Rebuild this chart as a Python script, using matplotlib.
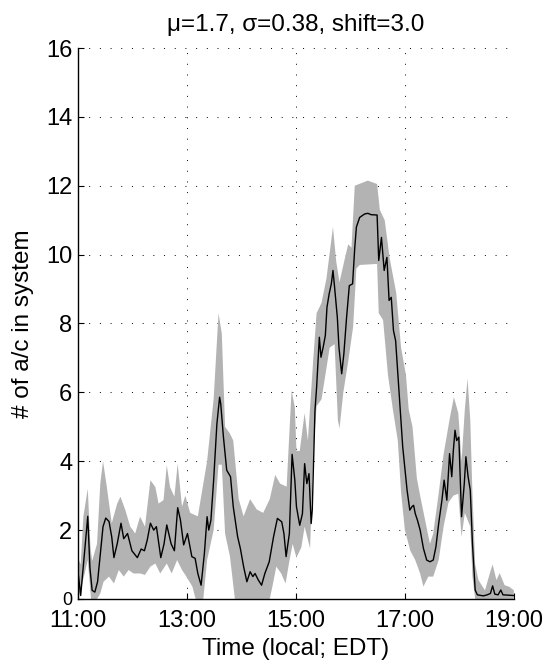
import numpy as np
import matplotlib
matplotlib.use('Agg')
import matplotlib.pyplot as plt

# Mean number of aircraft (time in hours, local)
mean_t = [11.00, 11.05, 11.18, 11.22, 11.26, 11.31, 11.36, 11.41, 11.46, 11.51,
          11.57, 11.62, 11.66, 11.72, 11.79, 11.84, 11.91, 11.99, 12.09, 12.16,
          12.22, 12.27, 12.33, 12.39, 12.44, 12.52, 12.58, 12.63, 12.71, 12.77,
          12.83, 12.88, 12.94, 13.01, 13.09, 13.15, 13.20, 13.26, 13.32, 13.37,
          13.40, 13.44, 13.49, 13.55, 13.60, 13.62, 13.67, 13.73, 13.80, 13.85,
          13.93, 13.98, 14.04, 14.10, 14.16, 14.21, 14.25, 14.31, 14.37, 14.43,
          14.51, 14.59, 14.66, 14.74, 14.78, 14.82, 14.88, 14.93, 14.98, 15.01,
          15.07, 15.12, 15.16, 15.20, 15.24, 15.28, 15.30, 15.35, 15.38, 15.43,
          15.46, 15.50, 15.54, 15.57, 15.61, 15.65, 15.68, 15.71, 15.76, 15.79,
          15.84, 15.88, 15.93, 15.98, 16.04, 16.08, 16.11, 16.17, 16.26, 16.32,
          16.38, 16.49, 16.52, 16.57, 16.62, 16.67, 16.71, 16.75, 16.79, 16.83,
          16.87, 16.91, 16.96, 17.01, 17.04, 17.09, 17.13, 17.16, 17.19, 17.23,
          17.28, 17.34, 17.40, 17.46, 17.52, 17.57, 17.62, 17.68, 17.72, 17.77,
          17.82, 17.86, 17.89, 17.92, 17.95, 17.99, 18.04, 18.09, 18.12, 18.16,
          18.20, 18.24, 18.29, 18.33, 18.44, 18.51, 18.57, 18.61, 18.65, 18.71,
          18.76, 18.80, 19.00]
mean_v = [0.8, 0.1, 2.4, 0.9, 0.25, 0.2, 0.5, 1.3, 2.1, 2.35,
          2.25, 1.8, 1.2, 1.6, 2.2, 1.75, 1.9, 1.4, 1.2, 1.45,
          1.4, 1.7, 2.2, 2.0, 2.1, 1.2, 1.6, 2.15, 1.6, 1.4,
          2.65, 2.3, 1.57, 1.9, 1.23, 1.18, 0.74, 0.4, 1.32, 2.39,
          2.0, 2.29, 3.45, 5.09, 5.86, 5.67, 4.7, 3.74, 3.55, 2.68,
          1.81, 1.47, 0.94, 0.5, 0.79, 0.65, 0.74, 0.55, 0.4, 0.74,
          1.08, 1.81, 2.34, 2.24, 1.9, 1.23, 1.9, 4.2, 3.45, 2.68,
          2.14, 2.48, 3.93, 3.35, 3.64, 2.19, 2.58, 5.48, 6.15, 7.6,
          7.02, 7.31, 7.65, 8.47, 8.86, 9.15, 9.54, 9.05, 8.18, 7.31,
          6.54, 7.12, 8.18, 9.1, 9.15, 10.2, 10.8, 11.08, 11.18, 11.2,
          11.16, 11.15, 9.83, 10.5, 9.54, 9.92, 8.67, 8.76, 7.8, 7.5,
          6.54, 5.57, 4.42, 3.64, 3.16, 2.58, 2.68, 2.72, 2.48, 2.29,
          2.0, 1.47, 1.13, 1.08, 1.13, 1.52, 2.19, 2.87, 3.45, 2.87,
          4.22, 3.55, 4.32, 4.9, 4.6, 4.7, 2.39, 3.35, 4.13, 3.55,
          3.16, 1.61, 0.26, 0.12, 0.09, 0.12, 0.16, 0.38, 0.14, 0.12,
          0.26, 0.12, 0.1]

# Upper edge of the spread
hi_t = [11.00, 11.05, 11.10, 11.18, 11.23, 11.26, 11.35, 11.41, 11.46, 11.53,
        11.62, 11.72, 11.78, 11.87, 11.96, 12.05, 12.14, 12.23, 12.33, 12.42,
        12.48, 12.57, 12.63, 12.69, 12.77, 12.83, 12.91, 12.97, 13.06, 13.20,
        13.37, 13.49, 13.58, 13.64, 13.70, 13.79, 13.85, 13.95, 14.04, 14.16,
        14.28, 14.40, 14.52, 14.62, 14.71, 14.83, 14.92, 14.98, 15.01, 15.07,
        15.16, 15.22, 15.32, 15.38, 15.47, 15.56, 15.68, 15.74, 15.80, 15.90,
        15.96, 16.02, 16.08, 16.32, 16.49, 16.54, 16.63, 16.72, 16.84, 16.93,
        17.02, 17.07, 17.14, 17.22, 17.28, 17.37, 17.46, 17.52, 17.62, 17.71,
        17.83, 17.90, 17.98, 18.04, 18.10, 18.15, 18.20, 18.24, 18.29, 18.35,
        18.47, 18.56, 18.61, 18.68, 18.74, 18.83, 18.92, 19.00]
hi_v = [1.2, 1.0, 2.4, 3.2, 1.5, 1.1, 1.6, 3.35, 4.0, 3.25,
        2.2, 2.77, 2.97, 2.58, 2.1, 1.9, 2.39, 2.1, 3.45, 3.25,
        2.77, 2.87, 3.88, 3.25, 2.97, 3.93, 2.68, 3.0, 2.5, 2.4,
        4.0, 5.8, 8.3, 7.7, 5.0, 4.8, 4.6, 2.9, 2.4, 2.9,
        2.6, 2.5, 2.9, 3.6, 3.35, 3.26, 6.06, 5.57, 4.3, 4.3,
        5.4, 4.6, 7.0, 8.3, 8.6, 9.3, 10.8, 9.8, 9.2, 9.9,
        10.3, 10.2, 12.0, 12.15, 12.05, 11.3, 11.0, 9.9, 8.9, 7.3,
        6.5, 5.5, 5.0, 3.5, 3.0, 2.3, 1.6, 1.9, 3.06, 4.2,
        5.3, 5.86, 5.4, 4.0, 5.5, 6.4, 5.2, 3.06, 1.0, 0.55,
        0.25, 0.75, 1.0, 0.55, 0.75, 0.4, 0.35, 0.25]

# Lower edge of the spread
lo_t = [11.00, 11.08, 11.18, 11.24, 11.35, 11.41, 11.47, 11.57, 11.66, 11.75,
        11.84, 11.93, 12.02, 12.14, 12.23, 12.33, 12.42, 12.51, 12.63, 12.72,
        12.82, 12.91, 12.97, 13.10, 13.16, 13.30, 13.37, 13.49, 13.58, 13.64,
        13.70, 13.79, 13.88, 14.52, 14.58, 14.64, 14.73, 14.81, 14.88, 14.94,
        15.01, 15.10, 15.16, 15.26, 15.32, 15.38, 15.47, 15.53, 15.62, 15.71,
        15.77, 15.80, 15.87, 15.96, 16.05, 16.11, 16.17, 16.49, 16.52, 16.60,
        16.69, 16.78, 16.87, 16.93, 17.00, 17.10, 17.19, 17.28, 17.34, 17.43,
        17.52, 17.62, 17.71, 17.80, 17.89, 17.98, 18.04, 18.10, 18.20, 18.24,
        18.29, 19.00]
lo_v = [0.0, 0.45, 1.13, 0.0, 0.0, 0.16, 0.5, 0.65, 0.45, 0.84,
        0.65, 0.84, 0.74, 0.74, 0.7, 0.94, 1.03, 0.74, 1.03, 0.74,
        1.13, 0.84, 0.7, 0.36, 0.0, 0.0, 1.13, 2.0, 3.9, 3.9,
        1.9, 1.23, 0.0, 0.0, 0.45, 0.94, 0.74, 0.45, 1.1, 1.6,
        1.2, 1.5, 2.1, 1.47, 4.3, 5.6, 5.8, 6.4, 7.3, 7.4,
        5.2, 4.95, 6.0, 6.9, 7.9, 9.6, 9.7, 9.73, 8.3, 8.1,
        6.5, 5.5, 4.6, 3.1, 2.0, 1.4, 1.13, 0.74, 0.36, 0.65,
        0.65, 1.13, 2.1, 2.8, 3.0, 3.06, 1.8, 2.5, 2.1, 0.65,
        0.0, 0.0]

x_ticks = [11, 13, 15, 17, 19]
x_labels = ['11:00', '13:00', '15:00', '17:00', '19:00']

plt.rcParams['font.family'] = ['Liberation Sans', 'DejaVu Sans']

fig = plt.figure(figsize=(5.49, 6.67), dpi=100)
ax = fig.add_axes([0.142, 0.102, 0.794, 0.826])

band_x = np.concatenate([hi_t, lo_t[::-1]])
band_y = np.concatenate([hi_v, lo_v[::-1]])
ax.fill(band_x, band_y, color='#b3b3b3', linewidth=0, zorder=2)
ax.plot(mean_t, mean_v, color='black', linewidth=1.0, zorder=3)

ax.set_xlim(11, 19)
ax.set_ylim(0, 16)
ax.set_xticks(x_ticks)
ax.set_xticklabels(x_labels)
ax.set_yticks(range(0, 17, 2))
ax.grid(True, color='black', linestyle=(0, (1, 10)), linewidth=0.7)
ax.set_axisbelow(True)

for side in ['top', 'right']:
    ax.spines[side].set_visible(False)
ax.spines['left'].set_linewidth(1.0)
ax.spines['bottom'].set_linewidth(1.0)
ax.tick_params(direction='in', length=4, width=0.8, labelsize=17)
ax.tick_params(axis='x', pad=8)
ax.tick_params(axis='y', pad=4)
# the zero label is squeezed smaller in the original
ax.get_yticklabels()[0].set_fontsize(13)

ax.set_title('\u03bc=1.7, \u03c3=0.38, shift=3.0', fontsize=17.5, pad=12)
ax.set_xlabel('Time (local; EDT)', fontsize=17.5, labelpad=4)
ax.set_ylabel('# of a/c in system', fontsize=17.5, labelpad=8.5)

fig.savefig('out.png', dpi=100)
